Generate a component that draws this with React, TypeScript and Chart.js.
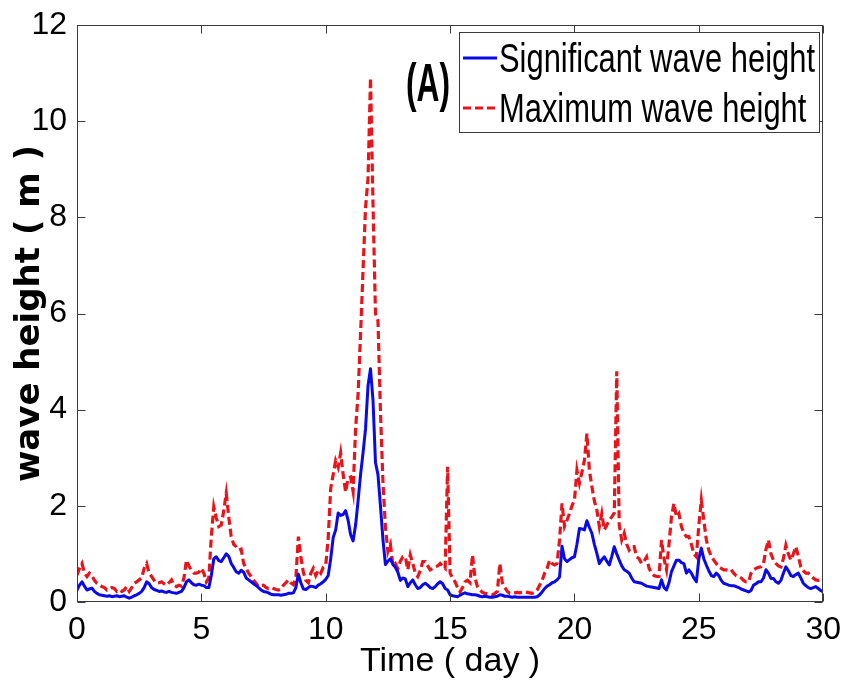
import React, { useEffect, useRef } from 'react';
import { Chart, registerables } from 'chart.js';

Chart.register(...registerables);

// Time axis: every 0.1 day from 0 to 30
const days: number[] = Array.from({ length: 301 }, (_, i) => i / 10);

// Significant wave height (m), one value per 0.1 day
const significantWaveHeight: number[] = [
  0.25, 0.35, 0.42, 0.33, 0.25, 0.27, 0.29, 0.22, 0.18, 0.15, // 0
  0.14, 0.13, 0.12, 0.13, 0.11, 0.12, 0.13, 0.11, 0.12, 0.13, // 1
  0.10, 0.08, 0.10, 0.13, 0.15, 0.18, 0.22, 0.30, 0.42, 0.38, // 2
  0.30, 0.26, 0.24, 0.22, 0.23, 0.21, 0.20, 0.22, 0.20, 0.19, // 3
  0.18, 0.20, 0.22, 0.30, 0.42, 0.46, 0.40, 0.36, 0.35, 0.37, // 4
  0.35, 0.34, 0.30, 0.30, 0.55, 0.90, 0.94, 0.86, 0.84, 0.92, // 5
  1.00, 0.95, 0.80, 0.72, 0.63, 0.60, 0.66, 0.62, 0.50, 0.46, // 6
  0.42, 0.38, 0.34, 0.30, 0.25, 0.22, 0.21, 0.19, 0.16, 0.15, // 7
  0.15, 0.15, 0.14, 0.15, 0.16, 0.18, 0.18, 0.19, 0.30, 0.58, // 8
  0.40, 0.27, 0.26, 0.30, 0.33, 0.32, 0.30, 0.35, 0.38, 0.42, // 9
  0.47, 0.55, 0.90, 1.34, 1.50, 1.85, 1.80, 1.82, 1.90, 1.70, // 10
  1.40, 1.27, 1.60, 2.10, 2.65, 3.10, 3.60, 4.50, 4.85, 4.20, // 11
  2.90, 2.65, 2.00, 1.30, 0.78, 0.85, 0.90, 0.78, 0.72, 0.62, // 12
  0.45, 0.50, 0.48, 0.32, 0.40, 0.46, 0.36, 0.28, 0.30, 0.36, // 13
  0.39, 0.35, 0.30, 0.28, 0.32, 0.38, 0.42, 0.38, 0.28, 0.25, // 14
  0.15, 0.13, 0.12, 0.11, 0.14, 0.17, 0.19, 0.17, 0.16, 0.15, // 15
  0.15, 0.14, 0.12, 0.11, 0.12, 0.11, 0.10, 0.10, 0.11, 0.12, // 16
  0.15, 0.14, 0.12, 0.12, 0.11, 0.10, 0.11, 0.10, 0.10, 0.10, // 17
  0.10, 0.10, 0.10, 0.10, 0.10, 0.11, 0.15, 0.21, 0.28, 0.33, // 18
  0.36, 0.40, 0.42, 0.46, 0.52, 1.16, 0.90, 0.84, 0.88, 0.92, // 19
  0.94, 1.20, 1.53, 1.52, 1.50, 1.69, 1.55, 1.43, 1.20, 1.01, // 20
  0.80, 0.88, 0.94, 0.85, 0.77, 0.95, 1.15, 1.00, 0.87, 0.75, // 21
  0.67, 0.64, 0.60, 0.50, 0.42, 0.41, 0.40, 0.39, 0.36, 0.33, // 22
  0.32, 0.31, 0.30, 0.29, 0.28, 0.46, 0.30, 0.25, 0.40, 0.63, // 23
  0.75, 0.87, 0.87, 0.82, 0.80, 0.60, 0.67, 0.60, 0.50, 0.42, // 24
  0.90, 1.12, 0.90, 0.77, 0.65, 0.55, 0.53, 0.60, 0.55, 0.45, // 25
  0.39, 0.37, 0.35, 0.34, 0.34, 0.32, 0.30, 0.27, 0.25, 0.23, // 26
  0.21, 0.24, 0.35, 0.38, 0.42, 0.42, 0.50, 0.67, 0.60, 0.49, // 27
  0.49, 0.42, 0.39, 0.45, 0.60, 0.73, 0.65, 0.55, 0.53, 0.57, // 28
  0.60, 0.50, 0.39, 0.34, 0.30, 0.28, 0.30, 0.32, 0.28, 0.24, // 29
  0.21,
];

// Maximum wave height (m), one value per 0.1 day
const maximumWaveHeight: number[] = [
  0.56, 0.70, 0.80, 0.60, 0.53, 0.60, 0.55, 0.45, 0.39, 0.36, // 0
  0.32, 0.30, 0.25, 0.28, 0.30, 0.28, 0.22, 0.25, 0.22, 0.25, // 1
  0.32, 0.22, 0.30, 0.39, 0.42, 0.46, 0.50, 0.70, 0.80, 0.60, // 2
  0.53, 0.45, 0.39, 0.40, 0.42, 0.38, 0.35, 0.40, 0.46, 0.35, // 3
  0.32, 0.35, 0.33, 0.50, 0.87, 0.75, 0.66, 0.60, 0.60, 0.62, // 4
  0.70, 0.60, 0.42, 0.50, 1.36, 1.98, 1.75, 1.57, 1.60, 1.90, // 5
  2.26, 1.77, 1.36, 1.20, 1.15, 1.08, 1.10, 0.80, 0.70, 0.60, // 6
  0.53, 0.45, 0.39, 0.32, 0.34, 0.35, 0.30, 0.28, 0.30, 0.28, // 7
  0.26, 0.25, 0.27, 0.35, 0.40, 0.46, 0.40, 0.36, 0.50, 1.36, // 8
  0.94, 0.62, 0.45, 0.40, 0.60, 0.70, 0.55, 0.66, 0.60, 0.72, // 9
  0.76, 1.34, 2.36, 2.65, 2.94, 2.80, 3.10, 2.65, 2.29, 2.58, // 10
  2.60, 2.30, 3.60, 4.32, 5.56, 6.90, 8.20, 8.80, 10.90, 8.30, // 11
  6.00, 5.85, 3.96, 2.50, 1.56, 1.05, 1.20, 0.76, 0.80, 0.69, // 12
  0.85, 0.94, 0.94, 0.67, 0.98, 0.80, 0.60, 0.53, 0.65, 0.84, // 13
  0.84, 0.75, 0.67, 0.70, 0.73, 0.75, 0.80, 0.75, 0.70, 2.81, // 14
  0.60, 0.50, 0.42, 0.30, 0.21, 0.30, 0.42, 0.45, 0.40, 0.98, // 15
  0.50, 0.32, 0.25, 0.20, 0.18, 0.17, 0.16, 0.15, 0.18, 0.22, // 16
  0.80, 0.40, 0.30, 0.22, 0.18, 0.18, 0.19, 0.20, 0.19, 0.20, // 17
  0.21, 0.20, 0.19, 0.18, 0.20, 0.25, 0.35, 0.45, 0.60, 0.70, // 18
  0.87, 0.80, 0.77, 0.80, 1.29, 2.05, 1.57, 1.70, 1.84, 2.00, // 19
  2.12, 2.74, 2.47, 2.70, 2.95, 3.50, 2.74, 2.40, 2.10, 1.91, // 20
  1.57, 1.84, 1.50, 1.60, 1.70, 1.77, 1.85, 4.80, 1.60, 1.29, // 21
  1.43, 1.20, 1.08, 1.15, 1.15, 0.94, 0.90, 0.80, 0.85, 0.94, // 22
  0.70, 0.60, 0.55, 0.53, 0.53, 1.29, 0.90, 0.67, 1.20, 1.77, // 23
  2.05, 1.77, 1.84, 1.57, 1.43, 1.36, 1.36, 1.20, 1.00, 0.94, // 24
  1.60, 2.12, 1.70, 1.30, 1.08, 0.95, 0.87, 0.80, 0.73, 0.70, // 25
  0.67, 0.67, 0.65, 0.67, 0.60, 0.55, 0.53, 0.50, 0.45, 0.42, // 26
  0.42, 0.60, 0.67, 0.70, 0.72, 0.73, 0.80, 1.10, 1.29, 1.00, // 27
  0.87, 0.80, 0.75, 0.73, 0.90, 1.18, 1.00, 0.87, 1.00, 1.15, // 28
  0.95, 0.73, 0.65, 0.60, 0.60, 0.55, 0.50, 0.46, 0.45, 0.47, // 29
  0.49,
];

const xTicks: number[] = [0, 5, 10, 15, 20, 25, 30];
const yTicks: number[] = [0, 2, 4, 6, 8, 10, 12];
const seriesLabels: string[] = ['Significant wave height', 'Maximum wave height'];
const panelLabel = '(A)';
const xTitle = 'Time ( day )';
const yTitle = 'wave height ( m )';

const SANS = '"Liberation Sans", Arial, sans-serif';
const BLUE = '#0a0ae6';
const RED = '#e8141c';

function drawFitted(ctx: CanvasRenderingContext2D, text: string, x: number, y: number, font: string, sx: number, sy: number, align: CanvasTextAlign) {
  ctx.save();
  ctx.translate(x, y);
  ctx.scale(sx, sy);
  ctx.font = font;
  ctx.fillStyle = '#000';
  ctx.textAlign = align;
  ctx.textBaseline = 'alphabetic';
  ctx.fillText(text, 0, 0);
  ctx.restore();
}

const framePlugin = {
  id: 'matlabFrame',
  afterDatasetsDraw(chart: any) {
    const { ctx, chartArea: a, scales } = chart;
    const xs = scales.x;
    const ys = scales.y;
    const L = Math.round(a.left) + 0.5;
    const R = Math.round(a.right) - 0.5;
    const T = Math.round(a.top) + 0.5;
    const B = Math.round(a.bottom) - 0.5;
    ctx.save();
    ctx.strokeStyle = '#3a3a3a';
    ctx.lineWidth = 1;
    ctx.strokeRect(L, T, R - L, B - T);
    const tl = 8;
    ctx.beginPath();
    xTicks.forEach((v) => {
      const p = Math.round(xs.getPixelForValue(v)) + 0.5;
      ctx.moveTo(p, B);
      ctx.lineTo(p, B - tl);
      ctx.moveTo(p, T);
      ctx.lineTo(p, T + tl);
    });
    yTicks.forEach((v) => {
      const p = Math.round(ys.getPixelForValue(v)) + 0.5;
      ctx.moveTo(L, p);
      ctx.lineTo(L + tl, p);
      ctx.moveTo(R, p);
      ctx.lineTo(R - tl, p);
    });
    ctx.stroke();
    ctx.restore();
  },
  afterDraw(chart: any) {
    const { ctx } = chart;
    const ds = chart.data.datasets;
    ctx.save();
    // legend box
    const bx = 459, by = 32, bw = 360, bh = 100;
    ctx.fillStyle = '#ffffff';
    ctx.fillRect(bx, by, bw, bh);
    ctx.strokeStyle = '#3a3a3a';
    ctx.lineWidth = 1;
    ctx.strokeRect(bx + 0.5, by + 0.5, bw, bh);
    const legendFont = `40px ${SANS}`;
    ctx.font = legendFont;
    const sx = 316 / ctx.measureText(seriesLabels[0]).width;
    const rows = [58, 108];
    const baselines = [72, 122];
    rows.forEach((ry, i) => {
      const d = ds[i];
      ctx.beginPath();
      ctx.strokeStyle = d.borderColor;
      ctx.lineWidth = 3;
      ctx.setLineDash(d.borderDash || []);
      ctx.moveTo(463, ry);
      ctx.lineTo(497, ry);
      ctx.stroke();
      ctx.setLineDash([]);
      drawFitted(ctx, seriesLabels[i], 499, baselines[i], legendFont, sx, 1.02, 'left');
    });
    // panel label
    const pFont = `bold 46px ${SANS}`;
    ctx.font = pFont;
    const psx = 44 / ctx.measureText(panelLabel).width;
    drawFitted(ctx, panelLabel, 428, 101, pFont, psx, 1.16, 'center');
    ctx.restore();
  },
};

export default function App() {
  const canvasRef = useRef<HTMLCanvasElement | null>(null);

  useEffect(() => {
    const canvas = canvasRef.current;
    if (!canvas) return;
    const chart = new Chart(canvas, {
      type: 'line',
      data: {
        datasets: [
          {
            label: seriesLabels[0],
            data: days.map((d, i) => ({ x: d, y: significantWaveHeight[i] })),
            borderColor: BLUE,
            borderWidth: 3,
            pointRadius: 0,
            tension: 0,
            fill: false,
            borderJoinStyle: 'round',
          },
          {
            label: seriesLabels[1],
            data: days.map((d, i) => ({ x: d, y: maximumWaveHeight[i] })),
            borderColor: RED,
            borderWidth: 3.2,
            borderDash: [8, 4],
            pointRadius: 0,
            tension: 0,
            fill: false,
          },
        ],
      },
      options: {
        animation: false,
        responsive: false,
        devicePixelRatio: 1,
        layout: { padding: { left: 0, right: 18, top: 25, bottom: 0 } },
        plugins: { legend: { display: false }, tooltip: { enabled: false } },
        scales: {
          x: {
            type: 'linear',
            min: 0,
            max: 30,
            grid: { display: false },
            border: { display: false },
            afterBuildTicks: (s: any) => {
              s.ticks = xTicks.map((v) => ({ value: v }));
            },
            afterFit: (s: any) => {
              s.height = 82;
            },
            ticks: {
              color: '#000',
              padding: 1,
              maxRotation: 0,
              autoSkip: false,
              font: { family: SANS, size: 32 },
            },
            title: {
              display: true,
              text: xTitle,
              color: '#000',
              font: { family: SANS, size: 34 },
              padding: { top: 0, bottom: 2 },
            },
          },
          y: {
            type: 'linear',
            min: 0,
            max: 12,
            grid: { display: false },
            border: { display: false },
            afterBuildTicks: (s: any) => {
              s.ticks = yTicks.map((v) => ({ value: v }));
            },
            afterFit: (s: any) => {
              s.width = 77;
            },
            ticks: {
              color: '#000',
              padding: 2,
              autoSkip: false,
              font: { family: SANS, size: 32 },
            },
            title: {
              display: true,
              text: yTitle,
              color: '#000',
              font: { family: '"DejaVu Sans", sans-serif', size: 34, weight: 'bold' },
              padding: { top: 10, bottom: 0 },
            },
          },
        },
      },
      plugins: [framePlugin],
    } as any);
    return () => chart.destroy();
  }, []);

  return (
    <div style={{ position: 'absolute', left: 0, top: 0, width: 842, height: 684, background: '#fff' }}>
      <canvas ref={canvasRef} width={842} height={684} style={{ display: 'block' }} />
    </div>
  );
}
